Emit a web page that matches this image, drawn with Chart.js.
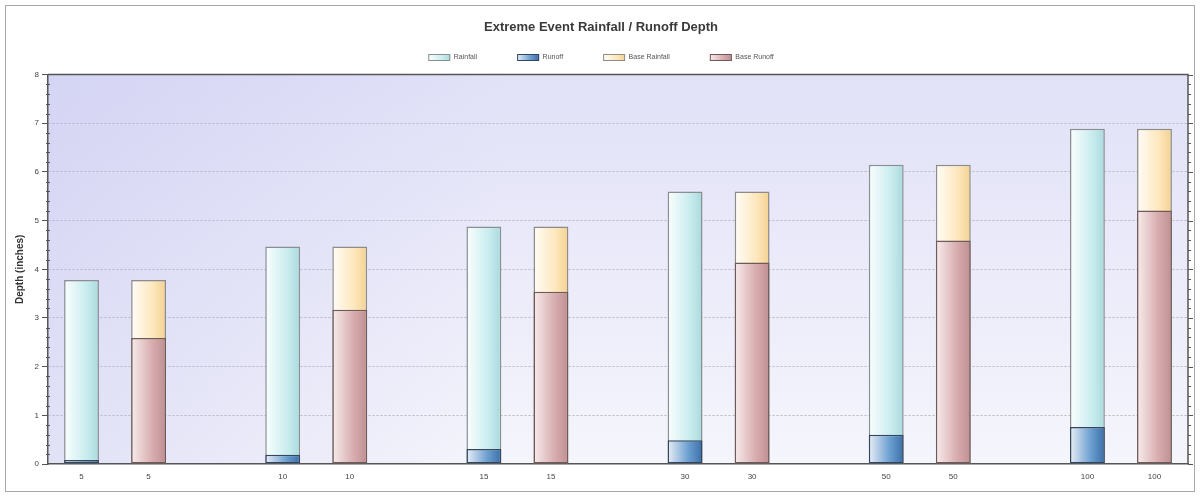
<!DOCTYPE html>
<html>
<head>
<meta charset="utf-8">
<script src="https://cdn.jsdelivr.net/npm/chart.js@4.4.0/dist/chart.umd.min.js"></script>
<style>
  html, body { margin: 0; padding: 0; background: #fff; }
  canvas { display: block; }
</style>
</head>
<body>
<canvas id="chart" width="1201" height="498"></canvas>
<script>
// Return periods (years); blank slots separate the pairs of bars
const categories = ['5', '5', '', '10', '10', '', '15', '15', '', '30', '30', '', '50', '50', '', '100', '100'];

// Depths in inches, one slot per category
const rainfall     = [3.78, null, null, 4.47, null, null, 4.88, null, null, 5.60, null, null, 6.15, null, null, 6.89, null];
const runoff       = [0.08, null, null, 0.19, null, null, 0.31, null, null, 0.49, null, null, 0.60, null, null, 0.76, null];
const baseRainfall = [null, 3.78, null, null, 4.47, null, null, 4.88, null, null, 5.60, null, null, 6.15, null, null, 6.89];
const baseRunoff   = [null, 2.59, null, null, 3.17, null, null, 3.54, null, null, 4.14, null, null, 4.59, null, null, 5.21];

const yTicks = [0, 1, 2, 3, 4, 5, 6, 7, 8];

const FONT = '"Liberation Sans", Arial, sans-serif';
const BAR_PCT = 0.52;

// Gradient stops for each series, left edge to right edge of a bar
const fills = {
  'Rainfall':      { stops: [[0, '#fbfefe'], [0.65, '#c8ecee'], [1, '#a9d9dd']], border: '#8a8f92' },
  'Runoff':        { stops: [[0, '#e9eef7'], [0.6, '#6c9fd0'], [1, '#3a6ea8']], border: '#34465e' },
  'Base Rainfall': { stops: [[0, '#fffdf8'], [0.65, '#fde6bb'], [1, '#f3d190']], border: '#8e8c86' },
  'Base Runoff':   { stops: [[0, '#f8ecec'], [0.6, '#d8adaf'], [1, '#bf8f92']], border: '#6e5a5a' }
};

function hGradient(ctx, x0, x1, stops) {
  const g = ctx.createLinearGradient(x0, 0, x1, 0);
  stops.forEach(([o, c]) => g.addColorStop(o, c));
  return g;
}

// Horizontal gradient across the width of each bar
function barFill(name) {
  const stops = fills[name].stops;
  return (ctx) => {
    const chart = ctx.chart;
    const area = chart.chartArea;
    if (!area || ctx.type !== 'data' || !chart.scales.x) return stops[1][1];
    const x = chart.scales.x.getPixelForValue(ctx.dataIndex);
    const w = (area.right - area.left) / categories.length * BAR_PCT;
    return hGradient(chart.ctx, x - w / 2, x + w / 2, stops);
  };
}

// Plot background, frame, plot border, minor/right-hand ticks, legend swatches
const decorations = {
  id: 'decorations',
  beforeDraw(chart) {
    const { ctx, chartArea: a } = chart;
    const w = a.right - a.left, h = a.bottom - a.top;
    ctx.save();
    ctx.fillStyle = '#ffffff';
    ctx.fillRect(0, 0, chart.width, chart.height);
    ctx.strokeStyle = '#a8a8a8';
    ctx.lineWidth = 1;
    ctx.strokeRect(5.5, 5.5, 1189, 486);
    // lavender wash fading downwards
    const g = ctx.createLinearGradient(0, a.top, 0, a.bottom);
    g.addColorStop(0, '#e1e1f8');
    g.addColorStop(0.5, '#ebebfa');
    g.addColorStop(1, '#f5f5fc');
    ctx.fillStyle = g;
    ctx.fillRect(a.left, a.top, w, h);
    // deeper tint along the left side
    const s = ctx.createLinearGradient(a.left, 0, a.left + w * 0.4, 0);
    s.addColorStop(0, 'rgba(186,186,236,0.32)');
    s.addColorStop(1, 'rgba(186,186,236,0)');
    ctx.fillStyle = s;
    ctx.fillRect(a.left, a.top, w, h);
    ctx.restore();
  },
  afterDraw(chart) {
    const { ctx, chartArea: a } = chart;
    const y = chart.scales.y;
    ctx.save();
    ctx.strokeStyle = '#555';
    ctx.lineWidth = 1.5;
    ctx.beginPath();
    ctx.moveTo(a.left, a.top);
    ctx.lineTo(a.right, a.top);
    ctx.lineTo(a.right, a.bottom);
    ctx.stroke();
    ctx.lineWidth = 1;
    for (let i = 0; i <= 40; i++) {
      const py = Math.round(y.getPixelForValue(i * 0.2)) + 0.5;
      const major = i % 5 === 0;
      ctx.beginPath();
      if (!major) {
        ctx.moveTo(a.left - 2, py);
        ctx.lineTo(a.left + 2, py);
      }
      ctx.moveTo(a.right, py);
      ctx.lineTo(a.right + (major ? 5 : 3), py);
      ctx.stroke();
    }
    // gradient legend swatches
    const legend = chart.legend;
    if (legend && legend.legendHitBoxes) {
      legend.legendHitBoxes.forEach((hb, i) => {
        const item = legend.legendItems[i];
        const f = fills[item.text];
        if (!f) return;
        const bx = hb.left, bw = 22, bh = 7;
        const by = Math.round(hb.top + (hb.height - bh) / 2);
        ctx.fillStyle = hGradient(ctx, bx, bx + bw, f.stops);
        ctx.fillRect(bx, by, bw, bh);
        ctx.strokeStyle = f.border;
        ctx.lineWidth = 1;
        ctx.strokeRect(bx + 0.5, by + 0.5, bw - 1, bh - 1);
      });
    }
    ctx.restore();
  }
};

const barOpts = {
  grouped: false,
  categoryPercentage: 1,
  barPercentage: BAR_PCT,
  borderWidth: 1.5,
  borderSkipped: false
};

function series(name, data, order) {
  return Object.assign({
    label: name,
    data: data,
    order: order,
    borderColor: fills[name].border,
    backgroundColor: barFill(name)
  }, barOpts);
}

new Chart(document.getElementById('chart'), {
  type: 'bar',
  data: {
    labels: categories,
    datasets: [
      series('Rainfall', rainfall, 2),
      series('Runoff', runoff, 1),
      series('Base Rainfall', baseRainfall, 2),
      series('Base Runoff', baseRunoff, 1)
    ]
  },
  options: {
    responsive: false,
    animation: false,
    devicePixelRatio: 1,
    layout: { padding: { top: 2, left: 14, right: 13, bottom: 6 } },
    plugins: {
      title: {
        display: true,
        text: 'Extreme Event Rainfall / Runoff Depth',
        color: '#3a3a3a',
        font: { family: FONT, size: 13, weight: 'bold' },
        padding: { top: 18, bottom: -26 }
      },
      legend: {
        display: true,
        labels: {
          boxWidth: 22,
          boxHeight: 15,
          padding: 40,
          color: '#555',
          font: { family: FONT, size: 7 },
          sort: (a, b) => a.datasetIndex - b.datasetIndex,
          generateLabels(chart) {
            const items = Chart.defaults.plugins.legend.labels.generateLabels(chart);
            items.forEach(it => {
              it.fillStyle = 'rgba(0,0,0,0)';
              it.strokeStyle = 'rgba(0,0,0,0)';
              it.lineWidth = 0;
            });
            return items;
          }
        }
      },
      tooltip: { enabled: false }
    },
    scales: {
      x: {
        grid: { display: false, drawTicks: false },
        border: { display: true, color: '#555', width: 1.5 },
        ticks: { color: '#444', font: { family: FONT, size: 8 }, padding: 8, autoSkip: false, maxRotation: 0 },
        afterFit(scale) { scale.height = 28; }
      },
      y: {
        min: 0,
        max: 8,
        afterBuildTicks(scale) { scale.ticks = yTicks.map(v => ({ value: v })); },
        grid: {
          color: (c) => (c.tick && (c.tick.value === 0 || c.tick.value === 8)) ? 'rgba(0,0,0,0)' : '#b6b6c8',
          tickLength: 6,
          tickColor: '#555',
          lineWidth: 1
        },
        border: { display: true, color: '#555', width: 1.5, dash: [2, 2] },
        ticks: { color: '#444', font: { family: FONT, size: 8 }, padding: 3 },
        title: {
          display: true,
          text: 'Depth (inches)',
          color: '#333',
          font: { family: FONT, size: 10, weight: 'bold' },
          padding: { top: 0, bottom: 4 }
        },
        afterFit(scale) { scale.width = 34; }
      }
    }
  },
  plugins: [decorations]
});
</script>
</body>
</html>
